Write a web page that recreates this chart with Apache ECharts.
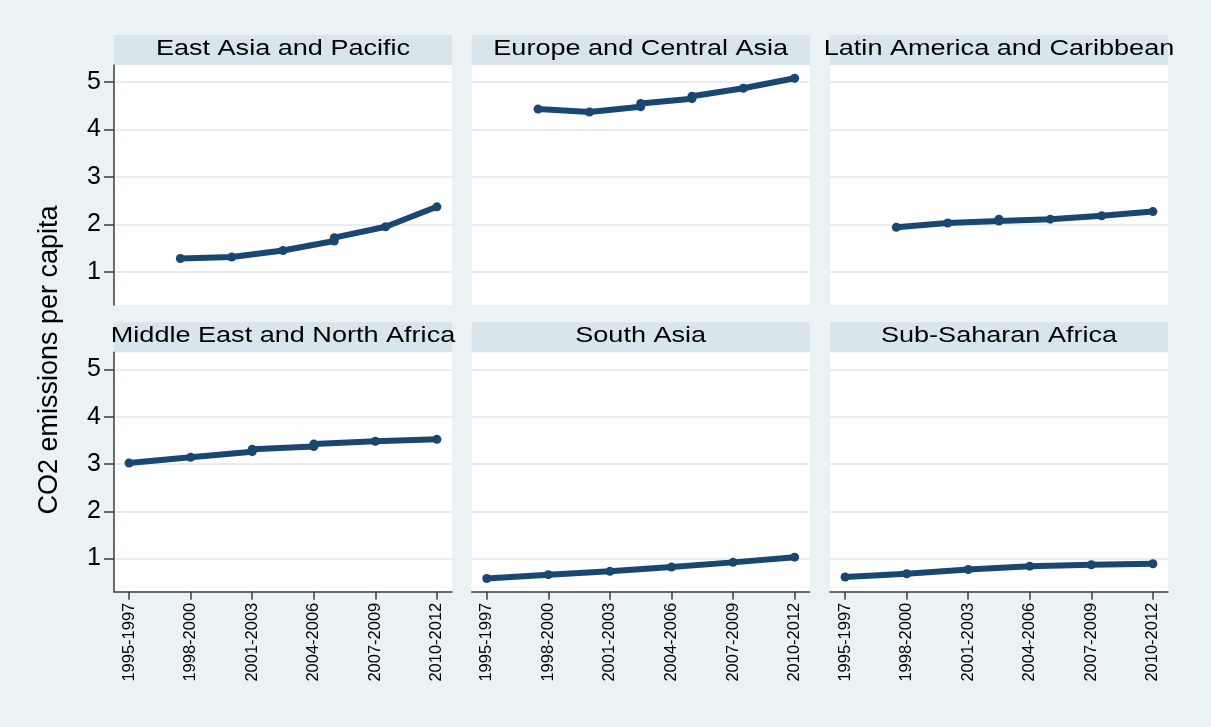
<!DOCTYPE html>
<html>
<head>
<meta charset="utf-8">
<title>CO2 emissions per capita by region</title>
<script src="https://cdn.jsdelivr.net/npm/echarts@6/dist/echarts.min.js"></script>
<style>
  html, body { margin: 0; padding: 0; background: #eaf2f3; }
  #chart { width: 1211px; height: 727px; }
</style>
</head>
<body>
<div id="chart"></div>
<script>
// x axis: periods, placed at positions 0..5
const periods = ['1995-1997', '1998-2000', '2001-2003', '2004-2006', '2007-2009', '2010-2012']
const periodTicks = [0, 1, 2, 3, 4, 5]
const yTicks = [1, 2, 3, 4, 5]

const regionNames = [
  'East Asia and Pacific',
  'Europe and Central Asia',
  'Latin America and Caribbean',
  'Middle East and North Africa',
  'South Asia',
  'Sub-Saharan Africa',
]

// [period position, CO2 per capita]
const eastAsiaPacific = [[0.833, 1.28], [1.667, 1.31], [2.5, 1.45], [3.333, 1.65], [3.333, 1.72], [4.167, 1.95], [5, 2.37]]
const europeCentralAsia = [[0.833, 4.43], [1.667, 4.37], [2.5, 4.48], [2.5, 4.55], [3.333, 4.65], [3.333, 4.70], [4.167, 4.87], [5, 5.08]]
const latinAmerica = [[0.833, 1.94], [1.667, 2.03], [2.5, 2.07], [2.5, 2.11], [3.333, 2.11], [4.167, 2.18], [5, 2.27]]
const middleEast = [[0, 3.02], [1, 3.14], [2, 3.26], [2, 3.31], [3, 3.37], [3, 3.42], [4, 3.48], [5, 3.52]]
const southAsia = [[0, 0.58], [1, 0.66], [2, 0.73], [3, 0.82], [4, 0.92], [5, 1.03]]
const subSaharan = [[0, 0.61], [1, 0.68], [2, 0.77], [3, 0.84], [4, 0.87], [5, 0.89]]

const regionData = [eastAsiaPacific, europeCentralAsia, latinAmerica, middleEast, southAsia, subSaharan]

const colors = {
  background: '#eaf2f3',
  strip: '#d8e5eb',
  plot: '#ffffff',
  grid: '#e6eff2',
  axis: '#3c3c3c',
  line: '#1a476f',
  text: '#000000',
}
const FONT = '"Liberation Sans", Arial, Helvetica, sans-serif'

// panel layout (px)
const COL_LEFT = [114, 471.7, 830]
const ROW_TOP = [65, 352.3]
const ROW_HEIGHT = [240, 239.4]
const PANEL_W = 338
const STRIP_H = 30

const grids = []
const xAxes = []
const yAxes = []
const series = []
const graphics = []

regionNames.forEach((name, i) => {
  const row = Math.floor(i / 3)
  const col = i % 3
  const left = COL_LEFT[col]
  const top = ROW_TOP[row]

  grids.push({
    left: left,
    top: top,
    width: PANEL_W,
    height: ROW_HEIGHT[row],
    show: true,
    backgroundColor: colors.plot,
    borderWidth: 0,
  })

  xAxes.push({
    type: 'value',
    gridIndex: i,
    min: -0.245,
    max: 5.245,
    axisLine: { show: row === 1, onZero: false, lineStyle: { color: colors.axis, width: 1.5 } },
    axisTick: { show: row === 1, length: 8, customValues: periodTicks, lineStyle: { color: colors.axis, width: 1.5 } },
    axisLabel: {
      show: row === 1,
      customValues: periodTicks,
      rotate: 90,
      margin: 11,
      fontSize: 16.5,
      fontFamily: FONT,
      color: colors.text,
      formatter: (v) => periods[Math.round(v)],
    },
    splitLine: { show: false },
  })

  yAxes.push({
    type: 'value',
    gridIndex: i,
    min: 0.3,
    max: 5.36,
    axisLine: { show: col === 0, onZero: false, lineStyle: { color: colors.axis, width: 1.5 } },
    axisTick: { show: col === 0, length: 10, customValues: yTicks, lineStyle: { color: colors.axis, width: 1.5 } },
    axisLabel: {
      show: col === 0,
      customValues: yTicks,
      margin: 13,
      fontSize: 25,
      fontFamily: FONT,
      color: colors.text,
    },
    splitLine: { show: true, lineStyle: { color: colors.grid, width: 2 } },
  })

  series.push({
    name: name,
    type: 'line',
    xAxisIndex: i,
    yAxisIndex: i,
    data: regionData[i],
    symbol: 'circle',
    symbolSize: 9,
    itemStyle: { color: colors.line },
    lineStyle: { color: colors.line, width: 6, cap: 'round', join: 'round' },
    silent: true,
  })

  // strip header above each panel
  graphics.push({
    type: 'rect',
    shape: { x: left, y: top - STRIP_H, width: PANEL_W, height: STRIP_H },
    style: { fill: colors.strip },
    silent: true,
  })
  graphics.push({
    type: 'text',
    x: left + PANEL_W / 2,
    y: top - STRIP_H / 2 - 1,
    scaleX: 1.23,
    style: {
      text: name,
      font: '22px ' + FONT,
      fill: colors.text,
      textAlign: 'center',
      textVerticalAlign: 'middle',
    },
    z: 10,
    silent: true,
  })
})

graphics.push({
  type: 'text',
  x: 50,
  y: 360,
  rotation: Math.PI / 2,
  style: {
    text: 'CO2 emissions per capita',
    font: '27px ' + FONT,
    fill: colors.text,
    textAlign: 'center',
    textVerticalAlign: 'middle',
  },
  silent: true,
})

const chart = echarts.init(document.getElementById('chart'))
chart.setOption({
  backgroundColor: colors.background,
  animation: false,
  textStyle: { fontFamily: FONT },
  grid: grids,
  xAxis: xAxes,
  yAxis: yAxes,
  series: series,
  graphic: graphics,
})
</script>
</body>
</html>
